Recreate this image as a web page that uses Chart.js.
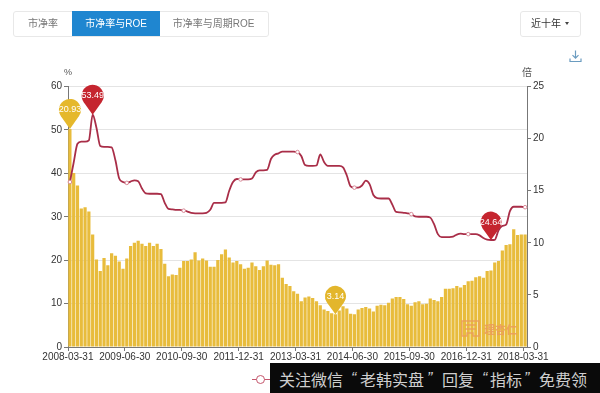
<!DOCTYPE html>
<html><head><meta charset="utf-8">
<script src="https://cdn.jsdelivr.net/npm/chart.js@4/dist/chart.umd.min.js"></script>
<style>
html,body{margin:0;padding:0;background:#fff;width:600px;height:393px;overflow:hidden;font-family:"Liberation Sans","Noto Sans CJK SC",sans-serif}
#c{position:absolute;left:0;top:0}
.abs{position:absolute;white-space:pre}
.btn{position:absolute;top:12px;height:24px;line-height:24px;text-align:center;font-size:10px;color:#777;white-space:pre;font-family:"Liberation Sans","Noto Sans CJK SC",sans-serif}
.w{position:absolute;top:367px;font-size:16px;line-height:24px;color:#cfcfcf;white-space:pre;font-family:'Noto Sans CJK SC'}
.q{font-family:'Liberation Sans';font-style:italic;}
</style></head><body>
<canvas id="c" width="600" height="393"></canvas>
<div class="abs" style="left:13px;top:11px;width:254px;height:24px;border:1px solid #e8e8e8;border-radius:3px"></div>
<div class="btn" style="left:14px;width:58px">市净率</div>
<div class="btn" style="left:72px;width:88px;background:#1f86d0;color:#fff;top:11px;height:25px;line-height:25px">市净率与ROE</div>
<div class="btn" style="left:160px;width:107px">市净率与周期ROE</div>
<div class="abs" style="left:520px;top:11px;width:59px;height:24px;border:1px solid #e8e8e8;border-radius:3px"></div>
<div class="btn" style="left:526px;width:40px;color:#333">近十年</div>
<div class="abs" style="left:565px;top:22px;width:0;height:0;border-left:2.5px solid transparent;border-right:2.5px solid transparent;border-top:3px solid #444"></div>
<svg class="abs" style="left:569px;top:50px" width="13" height="13" viewBox="0 0 13 13" fill="none" stroke="#6b9cc0" stroke-width="1.2"><path d="M6.5 0.5V8M3.5 5.2L6.5 8.2L9.5 5.2M1 8.5V11.5H12V8.5"/></svg>
<div class="abs" style="left:64px;top:67px;font-size:9px;color:#555">%</div>
<div class="abs" style="left:522px;top:64px;font-size:10px;color:#555;font-family:'Noto Sans CJK SC'">倍</div>
<svg class="abs" style="left:460px;top:319px" width="22" height="20" viewBox="0 0 22 20" fill="none" stroke="#ec9a5c" stroke-width="1.4" opacity="0.85"><path d="M2 2H19V17H13V14H7V17H2ZM5 6H16M5 10H16"/></svg>
<div class="abs" style="left:484px;top:321px;font-size:11px;font-weight:bold;color:#ec9a5c;opacity:.85;font-family:'Noto Sans CJK SC'">理杏仁</div>
<div class="abs" style="left:252px;top:379px;width:18px;height:1px;background:#c4566c"></div>
<div class="abs" style="left:256px;top:375px;width:7px;height:7px;border:1px solid #c4566c;border-radius:50%;background:#fff"></div>
<div class="abs" style="left:270px;top:363px;width:330px;height:30px;background:#0a0a0a"></div>
<div class="w" style="left:279px">关注微信</div>
<div class="w q" style="left:351px">“</div>
<div class="w" style="left:360px">老韩实盘</div>
<div class="w q" style="left:427px">”</div>
<div class="w" style="left:442px">回复</div>
<div class="w q" style="left:482px">“</div>
<div class="w" style="left:490px">指标</div>
<div class="w q" style="left:524px">”</div>
<div class="w" style="left:539px">免费领</div>
<script>
const startLabels = ['2008-03-31','2009-06-30','2010-09-30','2011-12-31','2013-03-31','2014-06-30','2015-09-30','2016-12-31','2018-03-31'];
const tickEvery = 15;
const peValues = [20.93,16.7,15.5,13.3,13.4,13.0,10.8,8.4,7.3,8.55,7.85,9.0,8.75,8.2,7.5,8.5,9.7,10.0,10.2,9.9,9.7,10.0,9.7,9.9,9.4,8.0,6.8,6.95,6.9,7.6,8.25,8.25,8.4,9.1,8.3,8.5,8.3,7.7,7.7,8.35,8.9,9.35,8.6,8.1,8.25,7.95,7.5,7.6,8.1,7.75,7.4,7.75,8.3,7.9,7.85,7.95,6.65,6.05,5.85,5.35,5.1,4.4,4.75,4.85,4.7,4.4,4.0,3.6,3.45,3.25,3.14,3.5,3.9,3.7,3.2,3.15,3.6,3.75,3.85,3.7,3.4,3.95,4.05,4.0,4.25,4.65,4.8,4.8,4.6,4.1,3.95,4.3,4.4,4.1,4.15,4.65,4.5,4.4,4.8,5.6,5.6,5.65,5.85,5.7,5.95,6.3,6.35,6.7,6.8,6.65,7.3,7.35,8.1,8.25,9.25,9.8,9.85,11.3,10.75,10.8,10.8];
const roeValues = [38.0,42.5,46.8,47.3,47.3,47.6,53.49,50.5,46.3,46.1,46.1,46.0,43.0,38.8,38.0,37.8,38.1,38.4,38.2,36.5,35.4,35.3,35.3,35.3,35.2,33.2,31.8,31.7,31.6,31.6,31.4,31.2,30.9,30.8,30.8,30.8,30.9,31.6,33.2,33.2,33.2,33.3,36.0,38.0,38.7,38.6,38.6,38.6,38.8,40.2,40.7,40.7,40.8,43.3,44.3,44.6,45.0,45.0,45.0,45.0,44.9,44.0,41.9,41.7,41.7,41.8,44.35,42.6,41.7,41.7,41.7,41.7,41.4,39.5,37.0,36.7,36.7,37.2,38.3,37.5,35.0,34.3,34.2,34.2,34.2,32.8,31.1,31.0,30.9,30.8,30.6,30.1,30.0,30.0,30.0,29.8,28.3,26.0,25.3,25.3,25.3,25.4,25.9,26.1,26.0,26.0,26.0,26.0,25.7,25.1,24.74,24.64,24.7,26.9,27.9,28.2,31.3,32.3,32.3,32.3,32.2];
const labels = peValues.map((_, i) => i % tickEvery === 0 ? startLabels[i / tickEvery] : '');
const pins = [
  {axis:'yR', i:0,   v:20.93, c:'#e5b82c', r:11, h:19, t:'20.93'},
  {axis:'yL', i:6,   v:53.49, c:'#c5252f', r:11, h:19, t:'53.49'},
  {axis:'yR', i:70,  v:3.14,  c:'#e3b62c', r:10.5, h:18, t:'3.14'},
  {axis:'yL', i:111, v:24.64, c:'#c5252f', r:10.5, h:18, t:'24.64'}
];
const pinPlugin = {
  id:'pins',
  afterDatasetsDraw(ch){
    const g = ch.ctx, xs = ch.scales.x;
    pins.forEach(p=>{
      const x = xs.getPixelForValue(p.i), y = ch.scales[p.axis].getPixelForValue(p.v);
      const cy = y - p.h;
      const a = Math.acos(p.r / p.h);
      g.save();
      g.fillStyle = p.c;
      g.beginPath();
      g.arc(x, cy, p.r, Math.PI/2 + a, Math.PI/2 - a, false);
      g.lineTo(x, y);
      g.closePath();
      g.fill();
      g.fillStyle = '#fff';
      g.font = '9px "Liberation Sans"';
      g.textAlign = 'center';
      g.textBaseline = 'middle';
      g.fillText(p.t, x, cy);
      g.restore();
    });
  }
};
const tickFont = {family:'"Liberation Sans"', size:10};
new Chart(document.getElementById('c'),{
  type:'bar',
  plugins:[pinPlugin],
  data:{labels,datasets:[
    {type:'line',label:'ROE',data:roeValues,yAxisID:'yL',borderColor:'#a92e48',borderWidth:1.8,
     cubicInterpolationMode:'monotone',
     pointRadius:c=>c.dataIndex%15===0?1.8:0,pointBackgroundColor:'#fff',pointBorderColor:'#d88a98',pointBorderWidth:1,order:1},
    {type:'bar',label:'PE',data:peValues,yAxisID:'yR',backgroundColor:'#e8bc3c',barPercentage:0.85,categoryPercentage:1,order:2}
  ]},
  options:{
    responsive:false,animation:false,
    layout:{padding:{left:38,right:38,top:86.5,bottom:21}},
    plugins:{legend:{display:false},tooltip:{enabled:false}},
    scales:{
      x:{offset:true,grid:{offset:true,drawOnChartArea:false,tickLength:4,tickColor:c=>c.index%15===0?'#777':'transparent'},
         border:{color:'#777'},
         ticks:{autoSkip:false,maxRotation:0,minRotation:0,labelOffset:-2,padding:0,color:'#333',font:tickFont},
         afterFit:s=>{s.height=25}},
      yL:{position:'left',min:0,max:60,
         grid:{color:'#e4e4e4',tickLength:4,tickColor:'#777'},border:{color:'#777'},
         ticks:{stepSize:10,color:'#333',font:tickFont,padding:2},afterFit:s=>{s.width=30}},
      yR:{position:'right',min:0,max:25,
         grid:{drawOnChartArea:false,tickLength:4,tickColor:'#777'},border:{color:'#777'},
         ticks:{stepSize:5,color:'#333',font:tickFont,padding:2},afterFit:s=>{s.width=35}}
    }
  }
});
</script>
</body></html>
